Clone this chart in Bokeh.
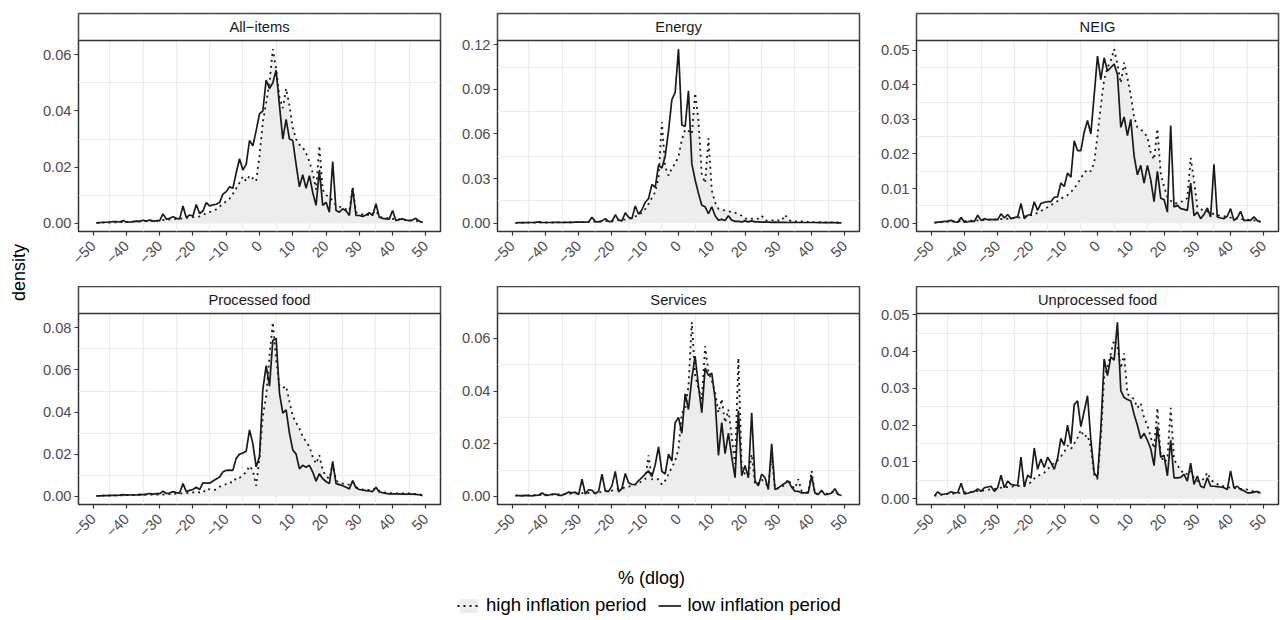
import math
from bokeh.plotting import figure
from bokeh.layouts import row, column
from bokeh.models import (Range1d, FixedTicker, Label, Legend, LegendItem,
                          ColumnDataSource, BoxAnnotation)
from bokeh.embed import file_html
from bokeh.resources import INLINE

# ---------------- data ----------------
x_vals = list(range(-49, 50))

panel_names = ["All\u2212items", "Energy", "NEIG", "Processed food", "Services", "Unprocessed food"]

all_low = [
    0.0002, 0.0003, 0.0004, 0.0004, 0.0005, 0.0006, 0.0006, 0.0005, 0.0010, 0.0004,
    0.0005, 0.0006, 0.0008, 0.0007, 0.0011, 0.0008, 0.0012, 0.0008, 0.0009, 0.0010,
    0.0034, 0.0015, 0.0018, 0.0024, 0.0018, 0.0016, 0.0062, 0.0020, 0.0030, 0.0026,
    0.0067, 0.0035, 0.0044, 0.0074, 0.0062, 0.0066, 0.0068, 0.0074, 0.0104, 0.0113,
    0.0130, 0.0125, 0.0180, 0.0230, 0.0190, 0.0210, 0.0295, 0.0276, 0.0330, 0.0390,
    0.0400, 0.0510, 0.0480, 0.0500, 0.0545, 0.0420, 0.0300, 0.0370, 0.0300, 0.0295,
    0.0210, 0.0130, 0.0173, 0.0125, 0.0170, 0.0110, 0.0064, 0.0190, 0.0064, 0.0075,
    0.0040, 0.0220, 0.0046, 0.0040, 0.0052, 0.0045, 0.0028, 0.0125, 0.0028, 0.0028,
    0.0025, 0.0030, 0.0038, 0.0028, 0.0070, 0.0022, 0.0018, 0.0016, 0.0015, 0.0046,
    0.0010, 0.0014, 0.0016, 0.0012, 0.0010, 0.0012, 0.0018, 0.0008, 0.0003]
all_high = [
    0.0002, 0.0002, 0.0003, 0.0003, 0.0003, 0.0004, 0.0004, 0.0005, 0.0005, 0.0005,
    0.0006, 0.0006, 0.0007, 0.0007, 0.0008, 0.0008, 0.0009, 0.0010, 0.0010, 0.0011,
    0.0012, 0.0013, 0.0014, 0.0015, 0.0016, 0.0017, 0.0018, 0.0020, 0.0021, 0.0022,
    0.0023, 0.0025, 0.0030, 0.0036, 0.0040, 0.0045, 0.0050, 0.0060, 0.0070, 0.0078,
    0.0088, 0.0105, 0.0125, 0.0145, 0.0167, 0.0150, 0.0170, 0.0160, 0.0150, 0.0240,
    0.0360, 0.0430, 0.0500, 0.0620, 0.0550, 0.0450, 0.0410, 0.0480, 0.0420, 0.0340,
    0.0300, 0.0280, 0.0270, 0.0250, 0.0220, 0.0180, 0.0120, 0.0276, 0.0120, 0.0100,
    0.0095, 0.0080, 0.0065, 0.0060, 0.0055, 0.0050, 0.0045, 0.0130, 0.0040, 0.0035,
    0.0032, 0.0030, 0.0030, 0.0035, 0.0045, 0.0025, 0.0020, 0.0020, 0.0018, 0.0016,
    0.0015, 0.0014, 0.0013, 0.0012, 0.0011, 0.0010, 0.0009, 0.0007, 0.0005]

energy_low = [
    0.0002, 0.0003, 0.0003, 0.0003, 0.0004, 0.0004, 0.0005, 0.0008, 0.0005, 0.0004,
    0.0004, 0.0004, 0.0005, 0.0005, 0.0004, 0.0005, 0.0005, 0.0005, 0.0006, 0.0006,
    0.0007, 0.0006, 0.0008, 0.0040, 0.0010, 0.0008, 0.0015, 0.0030, 0.0012, 0.0010,
    0.0056, 0.0020, 0.0015, 0.0070, 0.0040, 0.0030, 0.0115, 0.0060, 0.0090, 0.0140,
    0.0165, 0.0260, 0.0240, 0.0390, 0.0370, 0.0450, 0.0620, 0.0830, 0.0880, 0.1170,
    0.0660, 0.0650, 0.0890, 0.0400, 0.0290, 0.0200, 0.0120, 0.0110, 0.0063, 0.0110,
    0.0050, 0.0020, 0.0025, 0.0018, 0.0050, 0.0020, 0.0012, 0.0012, 0.0008, 0.0015,
    0.0008, 0.0015, 0.0008, 0.0008, 0.0007, 0.0006, 0.0006, 0.0005, 0.0006, 0.0005,
    0.0005, 0.0005, 0.0004, 0.0005, 0.0004, 0.0004, 0.0004, 0.0004, 0.0004, 0.0004,
    0.0004, 0.0003, 0.0003, 0.0003, 0.0003, 0.0003, 0.0003, 0.0002, 0.0002]
energy_high = [
    0.0002, 0.0002, 0.0002, 0.0003, 0.0003, 0.0003, 0.0003, 0.0003, 0.0004, 0.0004,
    0.0004, 0.0004, 0.0004, 0.0005, 0.0005, 0.0005, 0.0005, 0.0006, 0.0006, 0.0006,
    0.0006, 0.0007, 0.0008, 0.0009, 0.0010, 0.0011, 0.0012, 0.0013, 0.0015, 0.0017,
    0.0019, 0.0020, 0.0022, 0.0025, 0.0030, 0.0035, 0.0045, 0.0055, 0.0070, 0.0095,
    0.0130, 0.0170, 0.0210, 0.0310, 0.0680, 0.0380, 0.0320, 0.0370, 0.0400, 0.0450,
    0.0560, 0.0630, 0.0620, 0.0600, 0.0875, 0.0690, 0.0330, 0.0270, 0.0570, 0.0220,
    0.0140, 0.0097, 0.0090, 0.0085, 0.0080, 0.0075, 0.0070, 0.0060, 0.0050, 0.0030,
    0.0030, 0.0030, 0.0028, 0.0030, 0.0050, 0.0020, 0.0015, 0.0018, 0.0018, 0.0018,
    0.0015, 0.0056, 0.0025, 0.0012, 0.0010, 0.0015, 0.0012, 0.0008, 0.0008, 0.0007,
    0.0007, 0.0006, 0.0006, 0.0005, 0.0005, 0.0005, 0.0004, 0.0004, 0.0003]

neig_low = [
    0.0001, 0.0003, 0.0004, 0.0005, 0.0006, 0.0008, 0.0004, 0.0003, 0.0016, 0.0003,
    0.0004, 0.0006, 0.0005, 0.0023, 0.0008, 0.0013, 0.0010, 0.0010, 0.0010, 0.0010,
    0.0027, 0.0015, 0.0025, 0.0013, 0.0016, 0.0018, 0.0057, 0.0013, 0.0023, 0.0025,
    0.0062, 0.0037, 0.0057, 0.0060, 0.0062, 0.0062, 0.0075, 0.0076, 0.0116, 0.0106,
    0.0145, 0.0133, 0.0238, 0.0210, 0.0210, 0.0263, 0.0297, 0.0258, 0.0370, 0.0483,
    0.0415, 0.0478, 0.0440, 0.0450, 0.0460, 0.0430, 0.0277, 0.0307, 0.0253, 0.0300,
    0.0194, 0.0140, 0.0167, 0.0116, 0.0167, 0.0125, 0.0062, 0.0150, 0.0072, 0.0068,
    0.0032, 0.0282, 0.0047, 0.0052, 0.0042, 0.0040, 0.0037, 0.0116, 0.0022, 0.0032,
    0.0013, 0.0025, 0.0044, 0.0018, 0.0170, 0.0018, 0.0015, 0.0013, 0.0020, 0.0042,
    0.0008, 0.0015, 0.0034, 0.0008, 0.0008, 0.0008, 0.0018, 0.0008, 0.0003]
neig_high = [
    0.0002, 0.0002, 0.0003, 0.0003, 0.0004, 0.0004, 0.0005, 0.0005, 0.0006, 0.0006,
    0.0007, 0.0007, 0.0008, 0.0008, 0.0009, 0.0009, 0.0010, 0.0010, 0.0011, 0.0011,
    0.0012, 0.0012, 0.0013, 0.0014, 0.0015, 0.0016, 0.0017, 0.0019, 0.0021, 0.0023,
    0.0025, 0.0030, 0.0035, 0.0040, 0.0046, 0.0052, 0.0058, 0.0064, 0.0071, 0.0076,
    0.0081, 0.0090, 0.0100, 0.0115, 0.0130, 0.0145, 0.0155, 0.0150, 0.0175, 0.0253,
    0.0340, 0.0415, 0.0450, 0.0470, 0.0503, 0.0460, 0.0405, 0.0464, 0.0420, 0.0370,
    0.0307, 0.0277, 0.0270, 0.0263, 0.0248, 0.0204, 0.0184, 0.0273, 0.0145, 0.0106,
    0.0076, 0.0065, 0.0057, 0.0058, 0.0060, 0.0068, 0.0072, 0.0189, 0.0125, 0.0047,
    0.0040, 0.0037, 0.0034, 0.0030, 0.0026, 0.0023, 0.0021, 0.0020, 0.0018, 0.0016,
    0.0014, 0.0013, 0.0012, 0.0011, 0.0010, 0.0009, 0.0008, 0.0007, 0.0005]

proc_low = [
    0.0002, 0.0002, 0.0003, 0.0003, 0.0004, 0.0004, 0.0004, 0.0005, 0.0008, 0.0005,
    0.0006, 0.0007, 0.0006, 0.0009, 0.0008, 0.0010, 0.0013, 0.0010, 0.0012, 0.0012,
    0.0024, 0.0013, 0.0015, 0.0022, 0.0017, 0.0015, 0.0060, 0.0022, 0.0028, 0.0032,
    0.0043, 0.0032, 0.0064, 0.0062, 0.0062, 0.0072, 0.0082, 0.0091, 0.0115, 0.0123,
    0.0124, 0.0123, 0.0180, 0.0200, 0.0205, 0.0214, 0.0315, 0.0250, 0.0140, 0.0187,
    0.0507, 0.0620, 0.0523, 0.0740, 0.0750, 0.0490, 0.0395, 0.0410, 0.0300, 0.0220,
    0.0200, 0.0130, 0.0147, 0.0138, 0.0147, 0.0115, 0.0072, 0.0107, 0.0083, 0.0070,
    0.0060, 0.0166, 0.0060, 0.0055, 0.0050, 0.0043, 0.0035, 0.0075, 0.0040, 0.0032,
    0.0030, 0.0027, 0.0025, 0.0022, 0.0043, 0.0020, 0.0017, 0.0014, 0.0011, 0.0011,
    0.0011, 0.0011, 0.0010, 0.0010, 0.0010, 0.0010, 0.0009, 0.0007, 0.0003]
proc_high = [
    0.0002, 0.0002, 0.0003, 0.0003, 0.0003, 0.0004, 0.0004, 0.0004, 0.0005, 0.0005,
    0.0005, 0.0006, 0.0006, 0.0006, 0.0007, 0.0007, 0.0007, 0.0008, 0.0008, 0.0008,
    0.0008, 0.0009, 0.0010, 0.0011, 0.0012, 0.0013, 0.0014, 0.0015, 0.0014, 0.0018,
    0.0022, 0.0018, 0.0016, 0.0035, 0.0033, 0.0030, 0.0032, 0.0045, 0.0051, 0.0058,
    0.0067, 0.0064, 0.0088, 0.0088, 0.0100, 0.0115, 0.0144, 0.0123, 0.0050, 0.0187,
    0.0380, 0.0475, 0.0667, 0.0827, 0.0650, 0.0523, 0.0515, 0.0523, 0.0450, 0.0380,
    0.0350, 0.0323, 0.0283, 0.0260, 0.0235, 0.0187, 0.0155, 0.0195, 0.0123, 0.0095,
    0.0083, 0.0155, 0.0075, 0.0065, 0.0060, 0.0058, 0.0055, 0.0068, 0.0045, 0.0035,
    0.0032, 0.0030, 0.0030, 0.0032, 0.0038, 0.0025, 0.0020, 0.0017, 0.0015, 0.0014,
    0.0014, 0.0013, 0.0013, 0.0013, 0.0013, 0.0012, 0.0011, 0.0010, 0.0006]

serv_low = [
    0.0004, 0.0003, 0.0002, 0.0004, 0.0003, 0.0002, 0.0004, 0.0005, 0.0013, 0.0004,
    0.0005, 0.0008, 0.0009, 0.0004, 0.0004, 0.0010, 0.0016, 0.0013, 0.0016, 0.0007,
    0.0065, 0.0009, 0.0025, 0.0023, 0.0010, 0.0020, 0.0084, 0.0020, 0.0019, 0.0040,
    0.0095, 0.0017, 0.0030, 0.0087, 0.0052, 0.0045, 0.0045, 0.0060, 0.0071, 0.0085,
    0.0097, 0.0075, 0.0120, 0.0188, 0.0095, 0.0085, 0.0160, 0.0135, 0.0280, 0.0300,
    0.0240, 0.0390, 0.0330, 0.0448, 0.0532, 0.0420, 0.0318, 0.0487, 0.0460, 0.0468,
    0.0370, 0.0156, 0.0280, 0.0162, 0.0240, 0.0150, 0.0071, 0.0325, 0.0078, 0.0117,
    0.0071, 0.0318, 0.0058, 0.0040, 0.0084, 0.0071, 0.0026, 0.0200, 0.0026, 0.0032,
    0.0042, 0.0050, 0.0058, 0.0035, 0.0020, 0.0019, 0.0013, 0.0013, 0.0013, 0.0078,
    0.0013, 0.0007, 0.0023, 0.0006, 0.0008, 0.0013, 0.0029, 0.0007, 0.0003]
serv_high = [
    0.0003, 0.0003, 0.0003, 0.0004, 0.0004, 0.0004, 0.0005, 0.0005, 0.0006, 0.0006,
    0.0006, 0.0007, 0.0007, 0.0008, 0.0008, 0.0009, 0.0010, 0.0010, 0.0011, 0.0012,
    0.0012, 0.0012, 0.0013, 0.0013, 0.0013, 0.0015, 0.0017, 0.0020, 0.0019, 0.0022,
    0.0026, 0.0028, 0.0030, 0.0035, 0.0037, 0.0040, 0.0045, 0.0048, 0.0060, 0.0065,
    0.0156, 0.0065, 0.0065, 0.0065, 0.0045, 0.0060, 0.0085, 0.0110, 0.0136, 0.0180,
    0.0318, 0.0330, 0.0420, 0.0662, 0.0460, 0.0410, 0.0370, 0.0570, 0.0474, 0.0440,
    0.0396, 0.0318, 0.0370, 0.0280, 0.0330, 0.0227, 0.0123, 0.0526, 0.0110, 0.0085,
    0.0080, 0.0160, 0.0045, 0.0050, 0.0065, 0.0050, 0.0040, 0.0150, 0.0030, 0.0030,
    0.0035, 0.0045, 0.0065, 0.0040, 0.0030, 0.0065, 0.0020, 0.0015, 0.0015, 0.0097,
    0.0010, 0.0010, 0.0020, 0.0010, 0.0010, 0.0015, 0.0020, 0.0008, 0.0004]

unproc_low = [
    0.0008, 0.0019, 0.0011, 0.0013, 0.0014, 0.0019, 0.0016, 0.0017, 0.0042, 0.0013,
    0.0015, 0.0018, 0.0020, 0.0027, 0.0020, 0.0030, 0.0032, 0.0034, 0.0020, 0.0030,
    0.0064, 0.0030, 0.0048, 0.0039, 0.0037, 0.0036, 0.0113, 0.0032, 0.0064, 0.0056,
    0.0138, 0.0080, 0.0108, 0.0085, 0.0113, 0.0098, 0.0080, 0.0110, 0.0164, 0.0145,
    0.0200, 0.0150, 0.0256, 0.0266, 0.0196, 0.0238, 0.0280, 0.0160, 0.0071, 0.0057,
    0.0190, 0.0380, 0.0335, 0.0386, 0.0377, 0.0480, 0.0294, 0.0275, 0.0270, 0.0266,
    0.0229, 0.0200, 0.0164, 0.0178, 0.0159, 0.0136, 0.0090, 0.0196, 0.0113, 0.0118,
    0.0062, 0.0159, 0.0057, 0.0057, 0.0058, 0.0066, 0.0048, 0.0097, 0.0039, 0.0062,
    0.0034, 0.0030, 0.0057, 0.0034, 0.0034, 0.0033, 0.0032, 0.0030, 0.0025, 0.0076,
    0.0030, 0.0034, 0.0025, 0.0022, 0.0016, 0.0016, 0.0018, 0.0020, 0.0016]
unproc_high = [
    0.0008, 0.0010, 0.0011, 0.0012, 0.0013, 0.0014, 0.0014, 0.0015, 0.0016, 0.0017,
    0.0018, 0.0019, 0.0020, 0.0021, 0.0022, 0.0023, 0.0024, 0.0026, 0.0027, 0.0028,
    0.0030, 0.0031, 0.0032, 0.0033, 0.0034, 0.0034, 0.0036, 0.0038, 0.0039, 0.0045,
    0.0055, 0.0062, 0.0066, 0.0071, 0.0080, 0.0090, 0.0097, 0.0104, 0.0115, 0.0127,
    0.0145, 0.0135, 0.0150, 0.0166, 0.0187, 0.0168, 0.0173, 0.0140, 0.0065, 0.0053,
    0.0164, 0.0330, 0.0358, 0.0395, 0.0432, 0.0414, 0.0354, 0.0395, 0.0284, 0.0280,
    0.0270, 0.0247, 0.0260, 0.0220, 0.0200, 0.0168, 0.0137, 0.0247, 0.0118, 0.0099,
    0.0108, 0.0247, 0.0108, 0.0090, 0.0080, 0.0066, 0.0068, 0.0076, 0.0057, 0.0048,
    0.0048, 0.0055, 0.0071, 0.0053, 0.0044, 0.0040, 0.0036, 0.0034, 0.0032, 0.0030,
    0.0029, 0.0028, 0.0027, 0.0026, 0.0025, 0.0022, 0.0020, 0.0018, 0.0015]

low_series = [all_low, energy_low, neig_low, proc_low, serv_low, unproc_low]
high_series = [all_high, energy_high, neig_high, proc_high, serv_high, unproc_high]

x_ticks = [-50, -40, -30, -20, -10, 0, 10, 20, 30, 40, 50]
x_tick_labels = ["\u221250", "\u221240", "\u221230", "\u221220", "\u221210", "0", "10", "20", "30", "40", "50"]

y_ticks = [
    [0.0, 0.02, 0.04, 0.06],
    [0.0, 0.03, 0.06, 0.09, 0.12],
    [0.0, 0.01, 0.02, 0.03, 0.04, 0.05],
    [0.0, 0.02, 0.04, 0.06, 0.08],
    [0.0, 0.02, 0.04, 0.06],
    [0.0, 0.01, 0.02, 0.03, 0.04, 0.05],
]
y_tick_labels = [
    ["0.00", "0.02", "0.04", "0.06"],
    ["0.00", "0.03", "0.06", "0.09", "0.12"],
    ["0.00", "0.01", "0.02", "0.03", "0.04", "0.05"],
    ["0.00", "0.02", "0.04", "0.06", "0.08"],
    ["0.00", "0.02", "0.04", "0.06"],
    ["0.00", "0.01", "0.02", "0.03", "0.04", "0.05"],
]

legend_labels = ["high inflation period", "low inflation period"]

# ---------------- style / layout ----------------
FONT = "Liberation Sans"
TICK_FS = "14.7px"
STRIP_FS = "14.7px"
TITLE_FS = "18px"
LEGEND_FS = "18.5px"
FILL = "#EDEDED"
STRIP_FILL = "white"
LINE_C = "#1a1a1a"
FRAME_W = 362
BL = [48, 47, 46]
BR = [10, 11, 6]
PANEL_H = 191   # data area height
STRIP_H = 27    # strip header height


def make_panel(i, col, top, bottom):
    lo = low_series[i]
    hi = high_series[i]
    vmax = max(max(lo), max(hi))
    vmin = min(min(lo), min(hi))
    pad = 0.05 * (vmax - vmin)
    y0 = vmin - pad
    y1 = vmax + pad
    span = y1 - y0
    y_top = y1 + span * STRIP_H / PANEL_H
    p = figure(width=BL[col] + FRAME_W + BR[col], height=top + PANEL_H + STRIP_H + bottom,
               x_range=Range1d(-54.4, 54.4), y_range=Range1d(y0, y_top),
               output_backend="svg", toolbar_location=None,
               min_border_left=BL[col], min_border_right=BR[col],
               min_border_top=top, min_border_bottom=bottom)
    src = ColumnDataSource(dict(x=x_vals, lo=lo, hi=hi))
    p.varea(x="x", y1=0, y2="hi", source=src, fill_color=FILL)
    p.line(x="x", y="hi", source=src, line_color=LINE_C, line_width=1.8,
           line_dash="2 4")
    p.line(x="x", y="lo", source=src, line_color=LINE_C, line_width=1.7)

    # strip header (facet label)
    p.add_layout(BoxAnnotation(bottom=y1, fill_color=STRIP_FILL, fill_alpha=1.0,
                               line_color="#333333", line_alpha=1.0, line_width=1.5))
    p.add_layout(Label(x=0, y=y1 + span * (STRIP_H / 2) / PANEL_H, text=panel_names[i],
                       text_align="center", text_baseline="middle", text_font=FONT,
                       text_font_size=STRIP_FS, text_color="#1A1A1A"))

    p.xaxis.ticker = FixedTicker(ticks=x_ticks)
    p.xaxis.major_label_overrides = dict(zip(x_ticks, x_tick_labels))
    p.xaxis.major_label_orientation = math.pi / 4
    yt = y_ticks[i]
    p.yaxis.ticker = FixedTicker(ticks=yt)
    p.yaxis.major_label_overrides = dict(zip(yt, y_tick_labels[i]))

    for ax in (p.xaxis[0], p.yaxis[0]):
        ax.axis_line_color = None
        ax.major_tick_line_color = "#333333"
        ax.major_tick_line_width = 1.2
        ax.major_tick_out = 4
        ax.major_tick_in = 0
        ax.minor_tick_line_color = None
        ax.major_label_text_font = FONT
        ax.major_label_text_font_size = TICK_FS
        ax.major_label_text_color = "#4D4D4D"
        ax.major_label_standoff = 3
    p.xaxis[0].major_label_standoff = 8

    xmid = [(a + b) / 2 for a, b in zip(x_ticks[:-1], x_ticks[1:])]
    ymid = [(a + b) / 2 for a, b in zip(yt[:-1], yt[1:])]
    p.xgrid.ticker = FixedTicker(ticks=xmid)
    p.ygrid.ticker = FixedTicker(ticks=ymid)
    p.grid.grid_line_color = "#EBEBEB"
    p.grid.grid_line_width = 1.2
    p.outline_line_color = "#333333"
    p.outline_line_width = 1.5
    p.background_fill_color = "white"
    p.border_fill_color = "white"
    return p


panels1 = [make_panel(c, c, 13, 55) for c in range(3)]
panels2 = [make_panel(3 + c, c, 0, 56) for c in range(3)]

grid_col = column(row(*panels1), row(*panels2))

ylab = figure(width=30, height=560, x_range=Range1d(0, 30), y_range=Range1d(560, 0),
              output_backend="svg", toolbar_location=None,
              x_axis_location=None, y_axis_location=None, min_border=0)
ylab.grid.visible = False
ylab.outline_line_color = None
ylab.add_layout(Label(x=18, y=272, text="density", angle=math.pi / 2,
                      text_align="center", text_baseline="middle",
                      text_font=FONT, text_font_size=TITLE_FS, text_color="black"))

bottom = figure(width=1284, height=60, x_range=Range1d(0, 1284), y_range=Range1d(60, 0),
                output_backend="svg", toolbar_location=None,
                x_axis_location=None, y_axis_location=None, min_border=0)
bottom.grid.visible = False
bottom.outline_line_color = None
bottom.add_layout(Label(x=651, y=17, text="% (dlog)", text_align="center",
                        text_baseline="middle", text_font=FONT,
                        text_font_size=TITLE_FS, text_color="black"))

nan = float("nan")
r_area = bottom.varea(x=[nan], y1=[nan], y2=[nan], fill_color=FILL)
r_hd = bottom.line(x=[nan], y=[nan], line_color=LINE_C, line_width=1.8, line_dash="2 4")
r_lo = bottom.line(x=[nan], y=[nan], line_color=LINE_C, line_width=1.7)
leg = Legend(items=[LegendItem(label=legend_labels[0], renderers=[r_area, r_hd]),
                    LegendItem(label=legend_labels[1], renderers=[r_lo])],
             orientation="horizontal", location=(457, 4), padding=0, margin=0,
             spacing=12, glyph_width=23, glyph_height=17, label_height=17,
             label_standoff=6, border_line_color=None, background_fill_alpha=0,
             label_text_font=FONT, label_text_font_size=LEGEND_FS,
             label_text_color="black")
bottom.add_layout(leg)

page = column(row(ylab, grid_col), bottom)

open("out.html", "w").write(file_html(page, INLINE))
